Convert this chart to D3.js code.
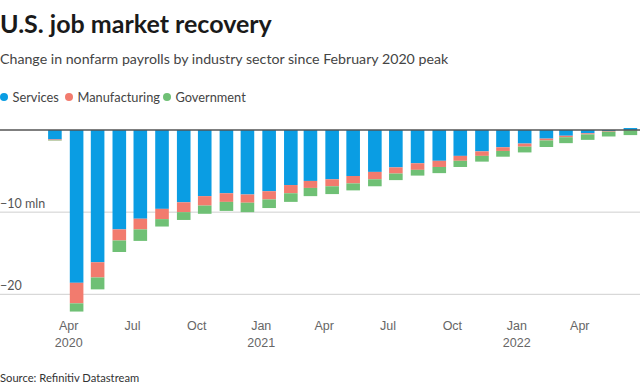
<!DOCTYPE html>
<html>
<head>
<meta charset="utf-8">
<script src="https://cdn.jsdelivr.net/npm/d3@7"></script>
<style>
  html, body { margin: 0; padding: 0; background: #fff; }
  svg { display: block; font-family: "Source Sans Pro", Lato, "Open Sans", sans-serif; }
</style>
</head>
<body>
<svg id="chart" width="640" height="388"></svg>
<script>
// ---- data (millions of jobs vs Feb 2020 peak) ----
const months = ["2020-03","2020-04","2020-05","2020-06","2020-07","2020-08","2020-09","2020-10","2020-11","2020-12",
  "2021-01","2021-02","2021-03","2021-04","2021-05","2021-06","2021-07","2021-08","2021-09","2021-10","2021-11","2021-12",
  "2022-01","2022-02","2022-03","2022-04","2022-05","2022-06"];
const services = [-1.15,-18.6,-16.1,-12.1,-10.8,-9.6,-8.8,-8.05,-7.7,-7.85,
  -7.45,-6.7,-6.2,-6.0,-5.6,-5.1,-4.55,-4.05,-3.75,-3.15,-2.6,-2.1,
  -1.65,-1.05,-0.7,-0.4,-0.13,0.24];
const manufacturing = [-0.1,-2.5,-1.85,-1.35,-1.3,-1.25,-1.2,-1.15,-1.05,-1.0,
  -1.0,-1.0,-0.85,-0.85,-0.9,-0.9,-0.75,-0.8,-0.75,-0.6,-0.55,-0.45,
  -0.38,-0.22,-0.18,-0.14,-0.08,-0.02];
const government = [-0.05,-1.0,-1.45,-1.4,-1.4,-0.9,-0.95,-1.0,-1.1,-1.15,
  -1.05,-1.05,-1.0,-0.95,-0.85,-0.85,-0.8,-0.7,-0.75,-0.75,-0.7,-0.7,
  -0.7,-0.8,-0.72,-0.66,-0.58,-0.6];
const seriesKeys = ["services","manufacturing","government"];
const seriesNames = ["Services","Manufacturing","Government"];
const colors = ["#0a9de3","#f27b6e","#6fc075"];
const yTicks = [-10,-20];
const yTickLabels = ["\u221210 mln","\u221220"];
const xTickDates = ["2020-04","2020-07","2020-10","2021-01","2021-04","2021-07","2021-10","2022-01","2022-04"];
const xTickMonth = ["Apr","Jul","Oct","Jan","Apr","Jul","Oct","Jan","Apr"];
const xTickYear = ["2020","","","2021","","","","2022",""];

const parse = d3.timeParse("%Y-%m");
const rows = months.map((m,i) => ({date: parse(m), services: services[i], manufacturing: manufacturing[i], government: government[i]}));

const svg = d3.select("#chart");
const W = 640;

// titles
svg.append("text").attr("x",0).attr("y",33).attr("font-size",25).attr("font-weight",700).attr("fill","#1a1a1a")
  .text("U.S. job market recovery");
svg.append("text").attr("x",0).attr("y",64).attr("font-size",14.2).attr("fill","#444")
  .text("Change in nonfarm payrolls by industry sector since February 2020 peak");

// legend
const legX = [4, 69, 167];
seriesNames.forEach((n,i) => {
  svg.append("circle").attr("cx",legX[i]).attr("cy",97).attr("r",4).attr("fill",colors[i]);
  svg.append("text").attr("x",legX[i]+8.5).attr("y",101.5).attr("font-size",12.8).attr("fill","#444").text(n);
});

// scales
const x = d3.scaleTime().domain([parse("2020-03"), parse("2022-07")]).range([46.5, 643]);
const y = d3.scaleLinear().domain([-20, 0]).range([294.3, 130]);

// grid
const grid = svg.append("g");
yTicks.forEach((t,i) => {
  grid.append("line").attr("x1",0).attr("x2",W).attr("y1",y(t)).attr("y2",y(t))
    .attr("stroke","#cfcfcf").attr("stroke-width",1);
  grid.append("text").attr("x",0).attr("y",y(t)-4).attr("font-size",12.5).attr("fill","#555").text(yTickLabels[i]);
});

// bars
const stack = d3.stack().keys(seriesKeys).offset(d3.stackOffsetDiverging);
const stacked = stack(rows);
const bw = 13.6;
const midX = d => x(d3.timeDay.offset(d.data.date, 12));
svg.append("g").selectAll("g").data(stacked).join("g")
  .attr("fill",(d,i)=>colors[i])
  .selectAll("rect").data(d=>d).join("rect")
  .attr("x", d => midX(d) - bw/2)
  .attr("width", bw)
  .attr("y", d => y(Math.max(d[0],d[1])))
  .attr("height", d => Math.abs(y(d[0]) - y(d[1])));

// zero line
svg.append("line").attr("x1",0).attr("x2",W).attr("y1",y(0)).attr("y2",y(0))
  .attr("stroke","#555").attr("stroke-width",1.5);

// x axis
const xAxis = d3.axisBottom(x).tickValues(xTickDates.map(parse)).tickSize(0).tickFormat("");
const gx = svg.append("g").attr("transform","translate(0,318)").call(xAxis);
gx.select(".domain").remove();
gx.selectAll(".tick").each(function(d,i){
  const t = d3.select(this).append("text").attr("text-anchor","middle").attr("fill","#666").attr("font-size",12.5);
  t.append("tspan").attr("x",0).attr("y",12).text(xTickMonth[i]);
  if (xTickYear[i]) t.append("tspan").attr("x",0).attr("y",29).text(xTickYear[i]);
});

// source
svg.append("text").attr("x",0).attr("y",381.5).attr("font-size",11.2).attr("fill","#333").text("Source: Refinitiv Datastream");
</script>
</body>
</html>
